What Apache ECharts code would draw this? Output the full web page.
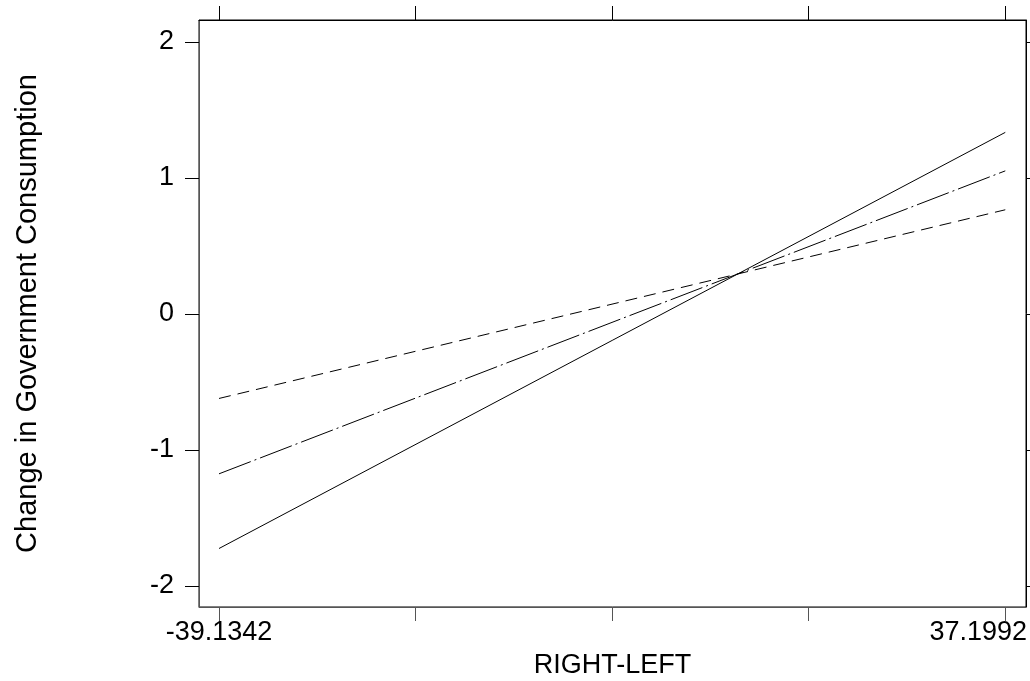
<!DOCTYPE html>
<html>
<head>
<meta charset="utf-8">
<script src="https://cdn.jsdelivr.net/npm/echarts@6/dist/echarts.min.js"></script>
<style>
  html, body { margin: 0; padding: 0; background: #fff; }
  #chart { width: 1030px; height: 681px; }
</style>
</head>
<body>
<div id="chart"></div>
<script>
// x values of the line ends (the two labelled ticks)
var xEnds = [-39.1342, 37.1992];
var xTicks = [-39.1342, -20.0508, -0.9674, 18.1160, 37.1992];
var xTickLabels = ["-39.1342", "37.1992"];
var yTicks = [-2, -1, 0, 1, 2];

// the three fitted lines
var solidLine = [-1.725, 1.334];
var dashDotLine = [-1.176, 1.051];
var dashedLine = [-0.622, 0.765];

function pairs(ys) {
	return xEnds.map(function (x, i) { return [x, ys[i]]; });
}

var font = "'Liberation Sans', Arial, sans-serif";
var xMin = -41.077, xMax = 39.21;
var yMin = -2.155, yMax = 2.16;

var chart = echarts.init(document.getElementById("chart"));

function lineSeries(ys, dash) {
	return {
		type: "line",
		data: pairs(ys),
		xAxisIndex: 0,
		yAxisIndex: 0,
		symbol: "none",
		silent: true,
		lineStyle: { color: "#000", width: 1, type: dash },
	};
}

var labelText = { color: "#000", fontSize: 27, fontFamily: font };

chart.setOption({
	animation: false,
	grid: {
		left: 199,
		top: 20,
		width: 827,
		height: 587,
		outerBoundsMode: "none",
		containLabel: false,
		show: true,
		borderColor: "#000",
		borderWidth: 1,
	},
	xAxis: [
		{
			type: "value",
			min: xMin,
			max: xMax,
			position: "bottom",
			name: "RIGHT-LEFT",
			nameLocation: "middle",
			nameGap: 45,
			nameTextStyle: labelText,
			axisLine: { show: true, onZero: false, lineStyle: { color: "#555", width: 1 } },
			axisTick: {
				show: true,
				inside: false,
				length: 14,
				customValues: xTicks,
				lineStyle: { color: "#555" },
			},
			axisLabel: {
				customValues: xEnds,
				margin: 12,
				color: "#000",
				fontSize: 27,
				fontFamily: font,
				formatter: function (v) {
					var i = xEnds.indexOf(v);
					if (i < 0) return "";
					// last label is pulled back inside the frame
					return i === xEnds.length - 1 ? "{r|" + xTickLabels[i] + "}" : xTickLabels[i];
				},
				rich: {
					r: { color: "#000", fontSize: 27, fontFamily: font, padding: [0, 54, 0, 0] },
				},
			},
			splitLine: { show: false },
		},
		{
			type: "value",
			min: xMin,
			max: xMax,
			position: "top",
			axisLine: { show: true, onZero: false, lineStyle: { color: "#000", width: 1 } },
			axisTick: {
				show: true,
				inside: false,
				length: 14,
				customValues: xTicks,
				lineStyle: { color: "#000" },
			},
			axisLabel: { show: false },
			splitLine: { show: false },
		},
	],
	yAxis: [
		{
			type: "value",
			min: yMin,
			max: yMax,
			position: "left",
			name: "Change in Government Consumption",
			nameLocation: "middle",
			nameGap: 157,
			nameTextStyle: { color: "#000", fontSize: 29, fontFamily: font },
			axisLine: { show: true, onZero: false, lineStyle: { color: "#555", width: 1 } },
			axisTick: {
				show: true,
				inside: false,
				length: 14,
				customValues: yTicks,
				lineStyle: { color: "#000" },
			},
			axisLabel: {
				customValues: yTicks,
				margin: 25,
				color: "#000",
				fontSize: 27,
				fontFamily: font,
			},
			splitLine: { show: false },
		},
		{
			type: "value",
			min: yMin,
			max: yMax,
			position: "right",
			axisLine: { show: true, onZero: false, lineStyle: { color: "#000", width: 1 } },
			axisTick: {
				show: true,
				inside: false,
				length: 14,
				customValues: yTicks,
				lineStyle: { color: "#000" },
			},
			axisLabel: { show: false },
			splitLine: { show: false },
		},
	],
	series: [
		lineSeries(solidLine, "solid"),
		lineSeries(dashDotLine, [34, 4, 2, 4]),
		lineSeries(dashedLine, [12, 7]),
	],
});
</script>
</body>
</html>
